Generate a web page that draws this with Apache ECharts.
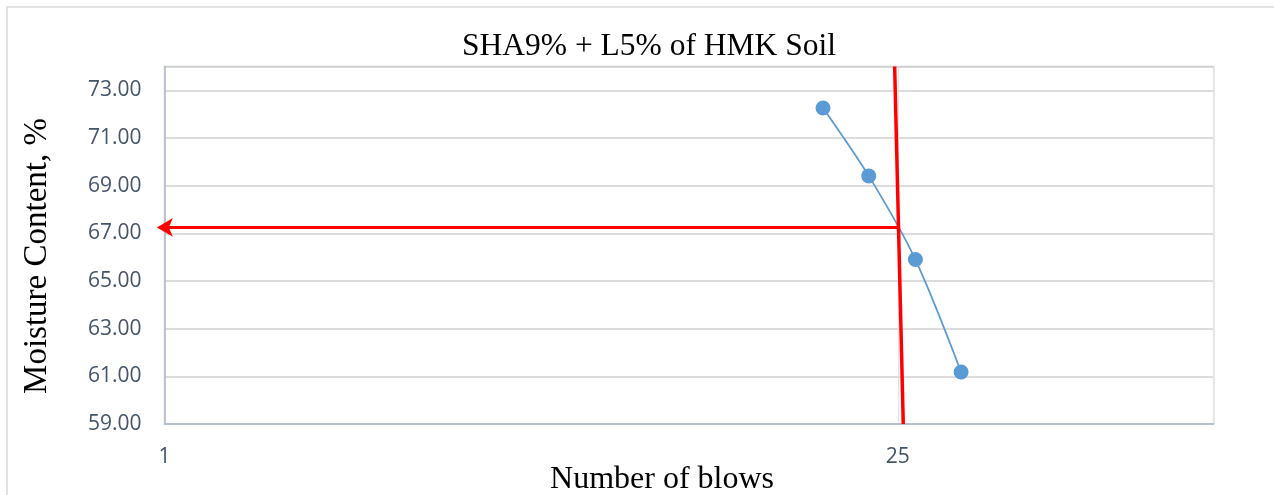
<!DOCTYPE html>
<html>
<head>
<meta charset="utf-8">
<script src="https://cdn.jsdelivr.net/npm/echarts@6/dist/echarts.min.js"></script>
<style>
html,body{margin:0;padding:0;background:#fff;}
#chart{width:1274px;height:495px;}
</style>
</head>
<body>
<div id="chart"></div>
<script>
// ---- data ----
const titleText = 'SHA9% + L5% of HMK Soil';
const xTitle = 'Number of blows';
const yTitle = 'Moisture Content, %';
const blows = [18, 22, 27, 33];
const moisture = [72.26, 69.41, 65.90, 61.18];
// red construction lines
const redVx = [24.65, 25.6];
const redVy = [74, 59];
const arrowX = [24.95, 0.967];
const arrowY = [67.25, 67.25];
const xMin = 1, xMax = 100, yMin = 59, yMax = 74, yStep = 2;

const chart = echarts.init(document.getElementById('chart'));
const labelColor = '#44546A';
const option = {
  backgroundColor: '#fff',
  animation: false,
  grid: {left: 164.5, top: 66.5, right: 60.3, bottom: 71, show: true, borderColor: '#D0D0D0', borderWidth: 1.5},
  xAxis: {
    type: 'log', logBase: 25, min: xMin, max: xMax,
    axisLine: {show: true, lineStyle: {color: '#ADB9CA', width: 1.5}},
    axisTick: {show: false},
    axisLabel: {color: labelColor, fontFamily: 'Open Sans', fontSize: 21, margin: 23, showMaxLabel: false},
    splitLine: {show: true, lineStyle: {color: '#E3E3E3', width: 1}}
  },
  yAxis: {
    type: 'value', min: yMin, max: yMax, interval: yStep,
    axisLine: {show: true, lineStyle: {color: '#ADB9CA', width: 1.5}},
    axisTick: {show: false},
    axisLabel: {color: labelColor, fontFamily: 'Open Sans', fontSize: 21, margin: 23, showMaxLabel: false,
      formatter: v => v.toFixed(2)},
    splitLine: {show: true, lineStyle: {color: '#D0D0D0', width: 1.5}}
  },
  series: [
    {
      type: 'line', data: blows.map((b, i) => [b, moisture[i]]), smooth: 0.3,
      symbol: 'circle', symbolSize: 15,
      lineStyle: {color: '#5B9BD5', width: 1.8}, itemStyle: {color: '#5B9BD5'}, z: 3
    },
    {
      type: 'line', data: redVx.map((x, i) => [x, redVy[i]]), symbol: 'none', clip: false,
      lineStyle: {color: '#FF0000', width: 3.5}, z: 4
    },
    {
      type: 'line', clip: false, z: 4,
      data: arrowX.map((x, i) => i === arrowX.length - 1
        ? {value: [x, arrowY[i]], symbol: 'arrow', symbolRotate: 90, symbolSize: [14, 16]}
        : {value: [x, arrowY[i]], symbol: 'none'}),
      showAllSymbol: true,
      lineStyle: {color: '#FF0000', width: 3}, itemStyle: {color: '#FF0000'}
    }
  ],
  graphic: [
    {type: 'rect', shape: {x: 7, y: 7, width: 1400, height: 700}, style: {fill: 'none', stroke: '#D9D9D9', lineWidth: 1.5}, silent: true, z: -1},
    {type: 'text', x: 649, y: 47, style: {text: titleText, x: 0, y: 0, align: 'center', verticalAlign: 'middle', font: '31.5px "Liberation Serif"', fill: '#000'}},
    {type: 'text', x: 662, y: 480, style: {text: xTitle, x: 0, y: 0, align: 'center', verticalAlign: 'middle', font: '32px "Liberation Serif"', fill: '#000'}},
    {type: 'text', x: 37, y: 256, rotation: Math.PI / 2, style: {text: yTitle, x: 0, y: 0, align: 'center', verticalAlign: 'middle', font: '33px "Liberation Serif"', fill: '#000'}}
  ]
};
chart.setOption(option);
</script>
</body>
</html>
